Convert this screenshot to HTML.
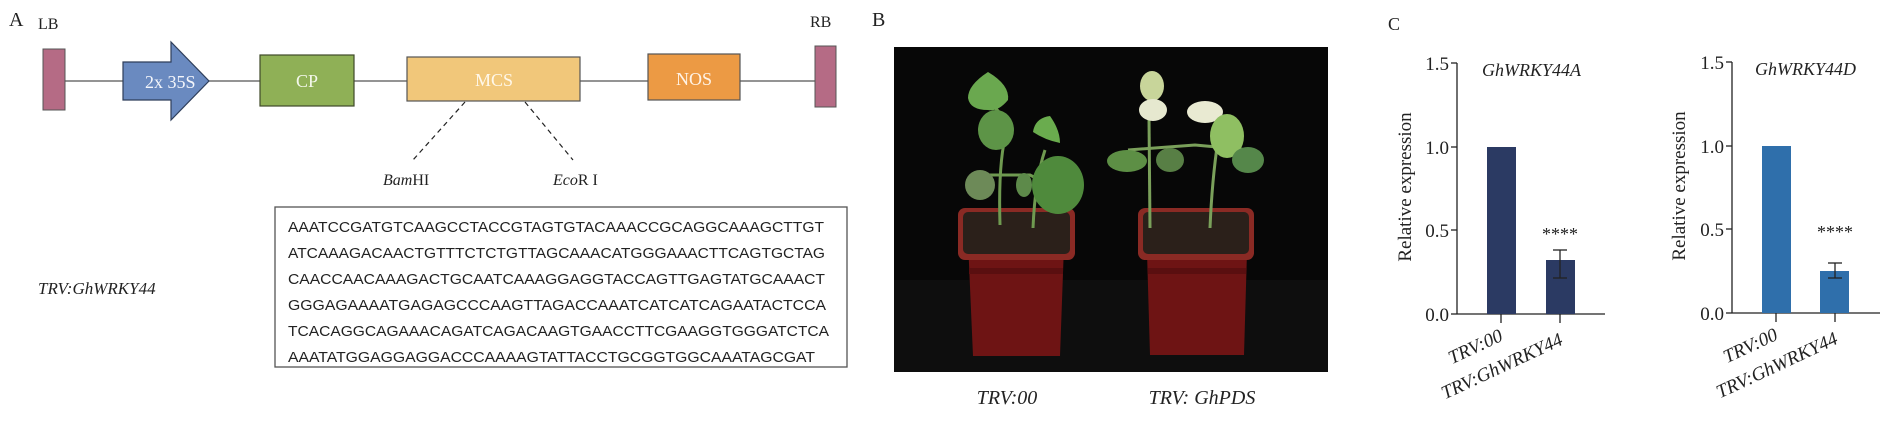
<!DOCTYPE html>
<html><head><meta charset="utf-8"><style>
html,body{margin:0;padding:0;background:#fff;}
svg{display:block;}
text{font-family:"Liberation Serif",serif;}
.seq{font-family:"Liberation Sans",sans-serif;font-size:15px;fill:#222;}
</style></head><body>
<svg width="1885" height="427" viewBox="0 0 1885 427" xmlns="http://www.w3.org/2000/svg">
<!-- Panel A -->
<text x="9" y="26" font-size="20" fill="#222">A</text>
<text x="38" y="29" font-size="16" fill="#222">LB</text>
<text x="810" y="27" font-size="16" fill="#222">RB</text>
<line x1="65" y1="81" x2="815" y2="81" stroke="#555" stroke-width="1.3"/>
<rect x="43" y="49" width="22" height="61" fill="#b56b85" stroke="#555" stroke-width="1"/>
<polygon points="123,62 171,62 171,42 209,81 171,120 171,100 123,100" fill="#6a8ac0" stroke="#2e3e5a" stroke-width="1.2"/>
<text x="145" y="88" font-size="18" fill="#f4f6fb">2x 35S</text>
<rect x="260" y="55" width="94" height="51" fill="#8fb056" stroke="#3f4a2a" stroke-width="1.2"/>
<text x="307" y="87" font-size="18" fill="#f4f8ec" text-anchor="middle">CP</text>
<rect x="407" y="57" width="173" height="44" fill="#f1c77a" stroke="#555" stroke-width="1.2"/>
<text x="494" y="86" font-size="18" fill="#fff8ea" text-anchor="middle">MCS</text>
<rect x="648" y="54" width="92" height="46" fill="#ec9a44" stroke="#555" stroke-width="1.2"/>
<text x="694" y="85" font-size="18" fill="#fff3e6" text-anchor="middle">NOS</text>
<rect x="815" y="46" width="21" height="61" fill="#b56b85" stroke="#555" stroke-width="1"/>
<line x1="465" y1="102" x2="413" y2="160" stroke="#222" stroke-width="1.2" stroke-dasharray="5,4"/>
<line x1="525" y1="102" x2="573" y2="160" stroke="#222" stroke-width="1.2" stroke-dasharray="5,4"/>
<text x="383" y="185" font-size="16" fill="#222"><tspan font-style="italic">Bam</tspan>HI</text>
<text x="553" y="185" font-size="16" fill="#222"><tspan font-style="italic">Eco</tspan>R I</text>
<text x="38" y="294" font-size="17" font-style="italic" fill="#222">TRV:GhWRKY44</text>
<rect x="275" y="207" width="572" height="160" fill="#fff" stroke="#555" stroke-width="1.3"/>
<text class="seq" x="288" y="232" textLength="536" lengthAdjust="spacingAndGlyphs">AAATCCGATGTCAAGCCTACCGTAGTGTACAAACCGCAGGCAAAGCTTGT</text>
<text class="seq" x="288" y="258" textLength="537" lengthAdjust="spacingAndGlyphs">ATCAAAGACAACTGTTTCTCTGTTAGCAAACATGGGAAACTTCAGTGCTAG</text>
<text class="seq" x="288" y="284" textLength="537" lengthAdjust="spacingAndGlyphs">CAACCAACAAAGACTGCAATCAAAGGAGGTACCAGTTGAGTATGCAAACT</text>
<text class="seq" x="288" y="310" textLength="538" lengthAdjust="spacingAndGlyphs">GGGAGAAAATGAGAGCCCAAGTTAGACCAAATCATCATCAGAATACTCCA</text>
<text class="seq" x="288" y="336" textLength="541" lengthAdjust="spacingAndGlyphs">TCACAGGCAGAAACAGATCAGACAAGTGAACCTTCGAAGGTGGGATCTCA</text>
<text class="seq" x="288" y="362" textLength="527" lengthAdjust="spacingAndGlyphs">AAATATGGAGGAGGACCCAAAAGTATTACCTGCGGTGGCAAATAGCGAT</text>

<!-- Panel B -->
<text x="872" y="26" font-size="20" fill="#222">B</text>
<rect x="894" y="47" width="434" height="325" fill="#070707"/>
<rect x="894" y="280" width="434" height="92" fill="#0e0e0e"/>
<!-- pot 1 -->
<path d="M967,218 L1065,218 L1060,356 L973,356 Z" fill="#6e1414"/>
<rect x="969" y="268" width="94" height="6" fill="#5a0f10"/>
<rect x="958" y="208" width="117" height="52" rx="7" fill="#8a2a24"/>
<rect x="963" y="212" width="107" height="42" rx="5" fill="#2b201a"/>
<!-- pot 2 -->
<path d="M1146,218 L1248,218 L1244,355 L1150,355 Z" fill="#6e1414"/>
<rect x="1148" y="268" width="98" height="6" fill="#5a0f10"/>
<rect x="1138" y="208" width="116" height="52" rx="7" fill="#8a2a24"/>
<rect x="1143" y="212" width="106" height="42" rx="5" fill="#2b201a"/>
<!-- plants 1 -->
<g stroke="#6f9a50" stroke-width="3" fill="none">
<path d="M1000,225 Q998,160 1007,130 Q1002,110 990,105"/>
<path d="M1033,228 Q1035,180 1045,150"/>
<path d="M985,175 L1030,175 L1050,185"/>
</g>
<g fill="#5f9a45">
<path d="M988,72 Q1010,85 1008,100 Q998,112 988,110 Q970,110 968,98 Q968,85 988,72Z" fill="#6aa84f"/>
<ellipse cx="996" cy="130" rx="18" ry="20" fill="#5d9447"/>
<path d="M1050,116 Q1060,130 1060,143 Q1045,140 1033,132 Q1035,118 1050,116Z" fill="#6aac4e"/>
<ellipse cx="1058" cy="185" rx="26" ry="29" fill="#4f8a3c"/>
<ellipse cx="980" cy="185" rx="15" ry="15" fill="#6d8a58"/>
<ellipse cx="1024" cy="185" rx="8" ry="12" fill="#5d8a4a"/>
</g>
<!-- plants 2 -->
<g stroke="#7aa05a" stroke-width="3" fill="none">
<path d="M1150,228 L1149,118"/>
<path d="M1210,228 Q1212,180 1218,140"/>
<path d="M1128,150 L1195,145 L1250,150"/>
</g>
<ellipse cx="1152" cy="86" rx="12" ry="15" fill="#c8d59a"/>
<ellipse cx="1153" cy="110" rx="14" ry="11" fill="#e6e8cf"/>
<ellipse cx="1205" cy="112" rx="18" ry="11" fill="#e9ead2"/>
<ellipse cx="1227" cy="136" rx="17" ry="22" fill="#8fbf62"/>
<ellipse cx="1127" cy="161" rx="20" ry="11" fill="#5d8f45"/>
<ellipse cx="1170" cy="160" rx="14" ry="12" fill="#587f45"/>
<ellipse cx="1248" cy="160" rx="16" ry="13" fill="#55874a"/>
<text x="1007" y="404" font-size="20" font-style="italic" fill="#222" text-anchor="middle">TRV:00</text>
<text x="1202" y="404" font-size="20" font-style="italic" fill="#222" text-anchor="middle">TRV: GhPDS</text>

<!-- Panel C -->
<text x="1388" y="30" font-size="18" fill="#222">C</text>
<g font-size="19" fill="#222">
<!-- chart 1 -->
<text x="1482" y="76" font-style="italic" font-size="18">GhWRKY44A</text>
<line x1="1457" y1="63" x2="1457" y2="314" stroke="#222" stroke-width="1.3"/>
<line x1="1457" y1="314" x2="1605" y2="314" stroke="#222" stroke-width="1.3"/>
<g stroke="#222" stroke-width="1.3">
<line x1="1451" y1="63" x2="1457" y2="63"/><line x1="1451" y1="147" x2="1457" y2="147"/>
<line x1="1451" y1="230" x2="1457" y2="230"/><line x1="1451" y1="314" x2="1457" y2="314"/>
<line x1="1501" y1="314" x2="1501" y2="323"/><line x1="1560" y1="314" x2="1560" y2="323"/>
</g>
<text x="1449" y="70" text-anchor="end">1.5</text>
<text x="1449" y="154" text-anchor="end">1.0</text>
<text x="1449" y="237" text-anchor="end">0.5</text>
<text x="1449" y="321" text-anchor="end">0.0</text>
<text transform="translate(1411,187) rotate(-90)" text-anchor="middle">Relative expression</text>
<rect x="1487" y="147" width="29" height="167" fill="#2b3a63"/>
<rect x="1546" y="260" width="29" height="54" fill="#2b3a63"/>
<g stroke="#222" stroke-width="1.3"><line x1="1560" y1="250" x2="1560" y2="278"/><line x1="1553" y1="250" x2="1567" y2="250"/><line x1="1553" y1="278" x2="1567" y2="278"/></g>
<text x="1560" y="240" text-anchor="middle" font-size="18">****</text>
<text transform="translate(1504,340) rotate(-25)" text-anchor="end" font-style="italic">TRV:00</text>
<text transform="translate(1564,344) rotate(-25)" text-anchor="end" font-style="italic">TRV:GhWRKY44</text>
<!-- chart 2 -->
<text x="1755" y="75" font-style="italic" font-size="18">GhWRKY44D</text>
<line x1="1732" y1="62" x2="1732" y2="313" stroke="#222" stroke-width="1.3"/>
<line x1="1732" y1="313" x2="1880" y2="313" stroke="#222" stroke-width="1.3"/>
<g stroke="#222" stroke-width="1.3">
<line x1="1726" y1="62" x2="1732" y2="62"/><line x1="1726" y1="146" x2="1732" y2="146"/>
<line x1="1726" y1="229" x2="1732" y2="229"/><line x1="1726" y1="313" x2="1732" y2="313"/>
<line x1="1776" y1="313" x2="1776" y2="322"/><line x1="1835" y1="313" x2="1835" y2="322"/>
</g>
<text x="1724" y="69" text-anchor="end">1.5</text>
<text x="1724" y="153" text-anchor="end">1.0</text>
<text x="1724" y="236" text-anchor="end">0.5</text>
<text x="1724" y="320" text-anchor="end">0.0</text>
<text transform="translate(1685,186) rotate(-90)" text-anchor="middle">Relative expression</text>
<rect x="1762" y="146" width="29" height="167" fill="#2f6fab"/>
<rect x="1820" y="271" width="29" height="42" fill="#2f6fab"/>
<g stroke="#222" stroke-width="1.3"><line x1="1835" y1="263" x2="1835" y2="278"/><line x1="1828" y1="263" x2="1842" y2="263"/><line x1="1828" y1="278" x2="1842" y2="278"/></g>
<text x="1835" y="238" text-anchor="middle" font-size="18">****</text>
<text transform="translate(1779,339) rotate(-25)" text-anchor="end" font-style="italic">TRV:00</text>
<text transform="translate(1839,343) rotate(-25)" text-anchor="end" font-style="italic">TRV:GhWRKY44</text>
</g>
</svg>
</body></html>
